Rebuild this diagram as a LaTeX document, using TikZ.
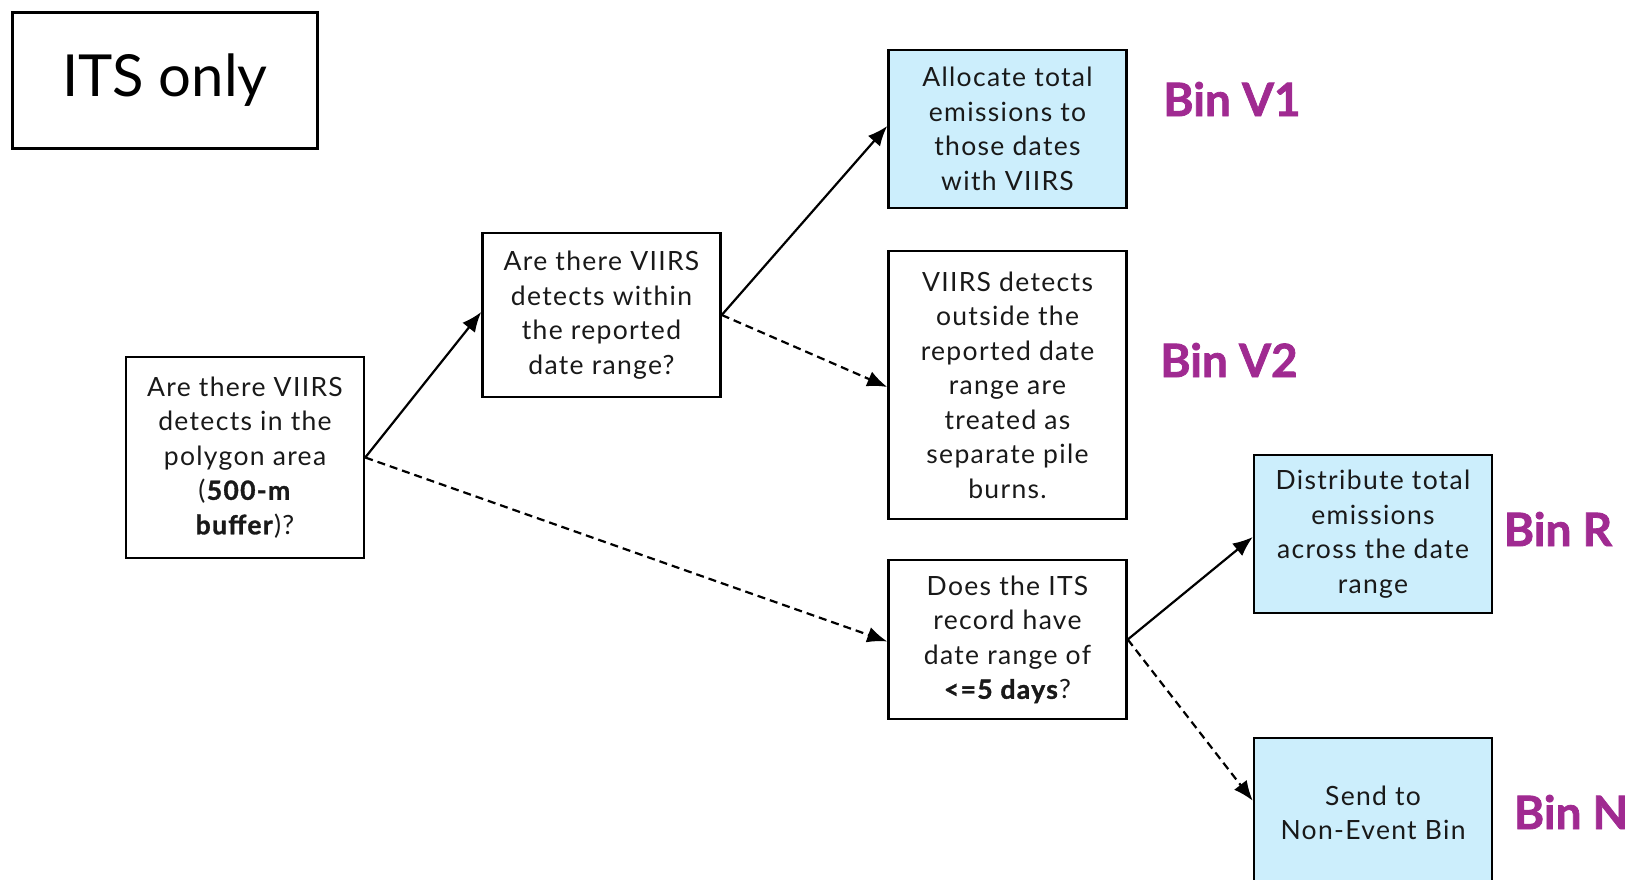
\documentclass[tikz,border=0pt]{standalone}
\usepackage{fontspec}
\setmainfont{Lato}
\newfontfamily\boxfont{Lato}[LetterSpace=5,BoldFeatures={FakeBold=1.2}]
\newfontfamily\binfont{Lato}[BoldFeatures={FakeBold=1.6}]
\usetikzlibrary{arrows.meta,calc}
\definecolor{binpurple}{HTML}{A02A91}
\definecolor{boxblue}{HTML}{CCEEFC}
\begin{document}
\begin{tikzpicture}[x=1pt,y=-1pt,
  box/.style={draw=black,line width=2.5pt,align=center,inner sep=0pt,
    minimum width=238pt,font=\boxfont\fontsize{26.5}{34.5}\selectfont,text=black!90},
  blue/.style={fill=boxblue},
  binlbl/.style={font=\binfont\fontsize{46}{46}\selectfont\bfseries,text=binpurple,inner sep=0pt},
  conn/.style={line width=2.2pt,-{Latex[length=20pt,width=16pt]}},
  dconn/.style={conn,dash pattern=on 8pt off 5pt}]
\useasboundingbox (0,0) rectangle (1633,880);
\clip (0,0) rectangle (1633,880);
\node[draw=black,line width=2.5pt,minimum width=305pt,minimum height=136pt,
  font=\fontsize{58}{58}\selectfont] (its) at (165,80.5) {ITS only};
\node[box,minimum height=201pt] (A) at (245,457.5)
  {Are there VIIRS\\detects in the\\polygon area\\(\textbf{500-m}\\\textbf{buffer})?};
\node[box,minimum height=164pt] (B) at (601.5,315)
  {Are there VIIRS\\detects within\\the reported\\date range?};
\node[box,blue,minimum height=158pt] (V1) at (1007.5,129)
  {Allocate total\\emissions to\\those dates\\with VIIRS};
\node[box,minimum height=268pt] (V2) at (1007.5,385)
  {VIIRS detects\\outside the\\reported date\\range are\\treated as\\separate pile\\burns.};
\node[box,minimum height=159pt] (C) at (1007.5,639.5)
  {Does the ITS\\record have\\date range of\\\textbf{<=5 days}?};
\node[box,blue,minimum height=158pt] (R) at (1373,534)
  {Distribute total\\emissions\\across the date\\range};
\node[box,blue,minimum height=150pt] (N) at (1373,813)
  {Send to\\Non-Event Bin};
\node[binlbl] (l1) at (1232,99) {Bin V1};
\node[binlbl] (l2) at (1229,360) {Bin V2};
\node[binlbl] (l3) at (1558,529) {Bin R};
\node[binlbl] (l4) at (1571,812) {Bin N};
\draw[conn] (A.east) -- ([yshift=3pt]B.west);
\draw[dconn] (A.east) -- ([yshift=-2pt]C.west);
\draw[conn] (B.east) -- ([yshift=3pt]V1.west);
\draw[dconn] (B.east) -- ([yshift=-2pt]V2.west);
\draw[conn] (C.east) -- ([yshift=-3pt]R.west);
\draw[dconn] (C.east) -- ([yshift=-64pt]N.north west);
\end{tikzpicture}
\end{document}
